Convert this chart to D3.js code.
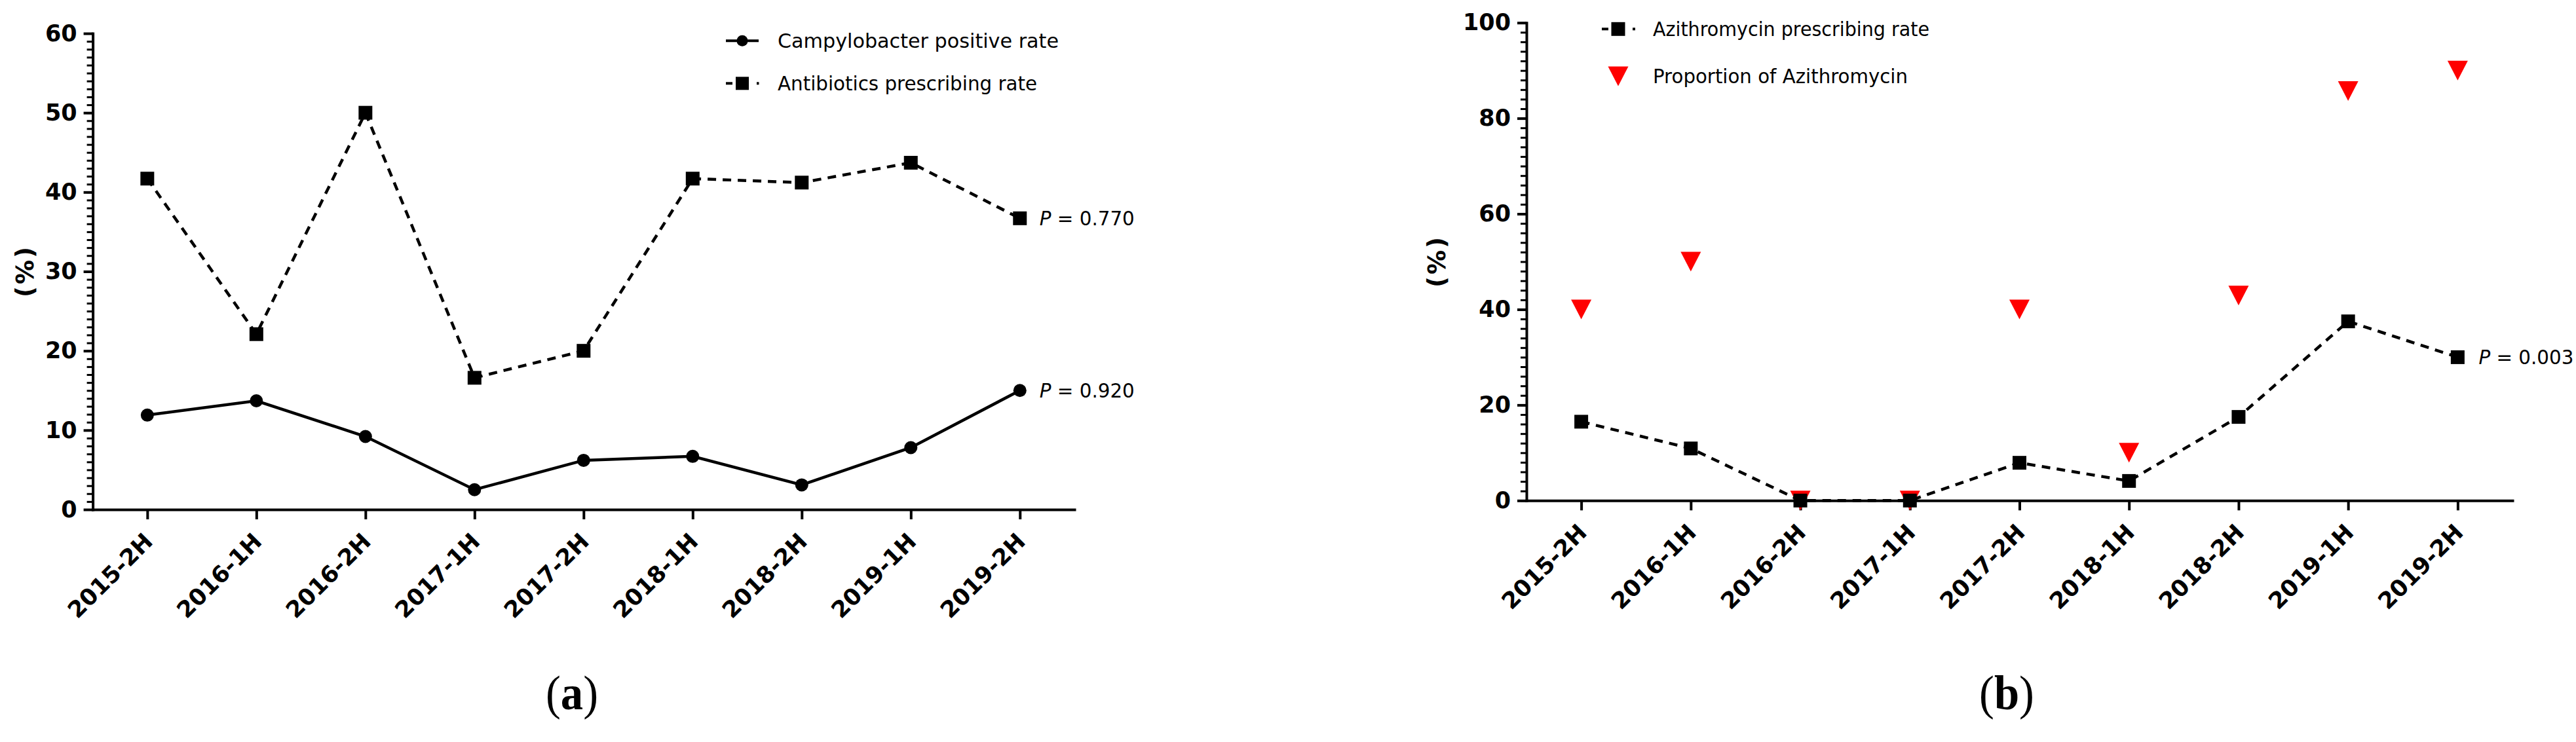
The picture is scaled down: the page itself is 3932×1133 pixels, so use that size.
<!DOCTYPE html>
<html>
<head>
<meta charset="utf-8">
<script src="https://cdn.jsdelivr.net/npm/d3@7/dist/d3.min.js"></script>
<style>
  html, body { margin: 0; padding: 0; background: #fff; }
  svg { display: block; }
</style>
</head>
<body>
<svg id="chart" width="3932" height="1133" font-family="DejaVu Sans, Verdana, sans-serif"></svg>
<script>
// ---------- data ----------
const periods = ["2015-2H","2016-1H","2016-2H","2017-1H","2017-2H","2018-1H","2018-2H","2019-1H","2019-2H"];

// panel (a)
const campyRate      = [11.9, 13.7, 9.2, 2.5, 6.2, 6.7, 3.1, 7.8, 15.0];
const antibioticRate = [41.7, 22.1, 50.0, 16.6, 20.0, 41.7, 41.2, 43.7, 36.7];
const ticksA = [0, 10, 20, 30, 40, 50, 60];
const legendA = ["Campylobacter positive rate", "Antibiotics prescribing rate"];
const pLabelsA = ["0.920", "0.770"];

// panel (b)
const azithroRate       = [16.5, 10.9, 0, 0, 7.9, 4.1, 17.5, 37.5, 30.0];
const azithroProportion = [40, 50, 0, 0, 40, 10, 42.9, 85.7, 90];
const ticksB = [0, 20, 40, 60, 80, 100];
const legendB = ["Azithromycin prescribing rate", "Proportion of Azithromycin"];
const pLabelsB = ["0.003"];

const panelLabels = ["a", "b"];

// ---------- drawing ----------
const svg = d3.select("#chart");
svg.append("rect").attr("width", 3932).attr("height", 1133).attr("fill", "#fff");

const DASH = "13,10";
const RED = "#ff0000";
const SANS = "DejaVu Sans, Verdana, sans-serif";

function drawAxes(g, x, y, majorTicks, minorStep, yMax) {
  // minor y ticks
  g.append("g")
    .attr("transform", `translate(${x.range()[0]},0)`)
    .call(d3.axisLeft(y).tickValues(d3.range(0, yMax + 0.001, minorStep)).tickSize(9).tickFormat(""))
    .call(s => s.select(".domain").remove())
    .call(s => s.selectAll(".tick line").attr("stroke", "#000").attr("stroke-width", 3));
  // major y ticks
  g.append("g")
    .attr("transform", `translate(${x.range()[0]},0)`)
    .call(d3.axisLeft(y).tickValues(majorTicks).tickSize(14).tickSizeOuter(0).tickPadding(10).tickFormat(d3.format("d")))
    .call(s => s.select(".domain").attr("stroke", "#000").attr("stroke-width", 4).attr("stroke-linecap", "square"))
    .call(s => s.selectAll(".tick line").attr("stroke", "#000").attr("stroke-width", 4))
    .call(s => s.selectAll(".tick text")
      .style("font-family", SANS).attr("font-weight", "bold")
      .attr("font-size", 35).attr("fill", "#000"));
  // x axis
  g.append("g")
    .attr("transform", `translate(0,${y(0)})`)
    .call(d3.axisBottom(x).tickSize(15).tickSizeOuter(0))
    .call(s => s.select(".domain").attr("stroke", "#000").attr("stroke-width", 4).attr("stroke-linecap", "square"))
    .call(s => s.selectAll(".tick line").attr("stroke", "#000").attr("stroke-width", 4))
    .call(s => s.selectAll(".tick text")
      .attr("x", null).attr("y", null).attr("dy", null)
      .attr("transform", "translate(10,51) rotate(-45)")
      .attr("text-anchor", "end")
      .style("font-family", SANS).attr("font-weight", "bold")
      .attr("font-size", 35).attr("fill", "#000"));
}

function yTitle(g, cx, cy) {
  g.append("text")
    .attr("transform", `translate(${cx},${cy}) rotate(-90)`)
    .attr("text-anchor", "middle").attr("dy", "0.35em")
    .style("font-family", SANS)
    .attr("font-weight", "bold").attr("font-size", 37)
    .attr("letter-spacing", 3)
    .text("(%)");
}

function pLabel(g, px, py, val) {
  const t = g.append("text")
    .attr("x", px).attr("y", py).attr("dy", "0.36em")
    .style("font-family", SANS)
    .attr("font-size", 30).attr("fill", "#000")
    .attr("textLength", 145).attr("lengthAdjust", "spacingAndGlyphs");
  t.append("tspan").attr("font-style", "italic").text("P");
  t.append("tspan").text(" = " + val);
}

function panelLabel(cx, letter) {
  const t = svg.append("text")
    .attr("transform", `translate(${cx},1083) scale(0.915,1)`)
    .attr("text-anchor", "middle")
    .style("font-family", "'Liberation Serif', 'Times New Roman', serif")
    .attr("font-size", 75).attr("fill", "#000");
  t.append("tspan").text("(");
  t.append("tspan").attr("font-weight", "bold").text(letter);
  t.append("tspan").text(")");
}

const trianglePath = "M-15.5,-15L15.5,-15L0,15Z";

function legendText(g, x, y, len, str) {
  g.append("text").attr("x", x).attr("y", y).attr("dy", "0.36em")
    .style("font-family", SANS).attr("font-size", 30).attr("fill", "#000")
    .attr("textLength", len).attr("lengthAdjust", "spacingAndGlyphs").text(str);
}

// ===== Panel (a) =====
{
  const g = svg.append("g");
  const x = d3.scalePoint().domain(periods).range([141.6, 1640]).padding(0.5);
  const y = d3.scaleLinear().domain([0, 60]).range([778, 51]);

  drawAxes(g, x, y, ticksA, 1, 60);
  yTitle(g, 38, 414);

  const line = d3.line().x((d, i) => x(periods[i])).y(d => y(d));

  // antibiotics (dashed, squares)
  g.append("path").datum(antibioticRate).attr("d", line)
    .attr("fill", "none").attr("stroke", "#000").attr("stroke-width", 4.5)
    .attr("stroke-dasharray", DASH);
  g.selectAll(".sqA").data(antibioticRate).join("path")
    .attr("transform", (d, i) => `translate(${x(periods[i])},${y(d)})`)
    .attr("d", d3.symbol(d3.symbolSquare, 441)()).attr("fill", "#000");

  // campylobacter (solid, circles)
  g.append("path").datum(campyRate).attr("d", line)
    .attr("fill", "none").attr("stroke", "#000").attr("stroke-width", 4.5);
  g.selectAll(".ciA").data(campyRate).join("circle")
    .attr("cx", (d, i) => x(periods[i])).attr("cy", d => y(d)).attr("r", 10).attr("fill", "#000");

  // P values
  const last = periods.length - 1;
  pLabel(g, x(periods[last]) + 30, y(campyRate[last]), pLabelsA[0]);
  pLabel(g, x(periods[last]) + 30, y(antibioticRate[last]), pLabelsA[1]);

  // legend
  const lg = g.append("g");
  lg.append("line").attr("x1", 1108).attr("x2", 1158).attr("y1", 62.3).attr("y2", 62.3)
    .attr("stroke", "#000").attr("stroke-width", 4);
  lg.append("circle").attr("cx", 1133).attr("cy", 62.3).attr("r", 8.5).attr("fill", "#000");
  legendText(lg, 1187, 62.3, 429, legendA[0]);
  lg.append("line").attr("x1", 1108).attr("x2", 1118).attr("y1", 127.3).attr("y2", 127.3)
    .attr("stroke", "#000").attr("stroke-width", 4);
  lg.append("rect").attr("x", 1123).attr("y", 117.3).attr("width", 20).attr("height", 20).attr("fill", "#000");
  lg.append("line").attr("x1", 1155).attr("x2", 1158.5).attr("y1", 127.3).attr("y2", 127.3)
    .attr("stroke", "#000").attr("stroke-width", 4);
  legendText(lg, 1187, 127.3, 396, legendA[1]);
}

// ===== Panel (b) =====
{
  const g = svg.append("g");
  const x = d3.scalePoint().domain(periods).range([2330, 3835]).padding(0.5);
  const y = d3.scaleLinear().domain([0, 100]).range([764.3, 34.7]);

  drawAxes(g, x, y, ticksB, 2, 100);
  yTitle(g, 2193, 399);

  const line = d3.line().x((d, i) => x(periods[i])).y(d => y(d));

  // proportion (red down triangles)
  g.selectAll(".triB").data(azithroProportion).join("path")
    .attr("transform", (d, i) => `translate(${x(periods[i])},${y(d)})`)
    .attr("d", trianglePath).attr("fill", RED);

  // azithromycin rate (dashed, squares)
  g.append("path").datum(azithroRate).attr("d", line)
    .attr("fill", "none").attr("stroke", "#000").attr("stroke-width", 4.5)
    .attr("stroke-dasharray", DASH);
  g.selectAll(".sqB").data(azithroRate).join("path")
    .attr("transform", (d, i) => `translate(${x(periods[i])},${y(d)})`)
    .attr("d", d3.symbol(d3.symbolSquare, 441)()).attr("fill", "#000");

  const last = periods.length - 1;
  pLabel(g, x(periods[last]) + 32, y(azithroRate[last]), pLabelsB[0]);

  // legend
  const lg = g.append("g");
  lg.append("line").attr("x1", 2445).attr("x2", 2455).attr("y1", 44.3).attr("y2", 44.3)
    .attr("stroke", "#000").attr("stroke-width", 4);
  lg.append("rect").attr("x", 2459.5).attr("y", 33.8).attr("width", 21).attr("height", 21).attr("fill", "#000");
  lg.append("line").attr("x1", 2492).attr("x2", 2496).attr("y1", 44.3).attr("y2", 44.3)
    .attr("stroke", "#000").attr("stroke-width", 4);
  legendText(lg, 2523, 44.3, 422, legendB[0]);

  lg.append("path").attr("transform", "translate(2470,116.5)").attr("d", trianglePath).attr("fill", RED);
  legendText(lg, 2523, 116.5, 389, legendB[1]);
}

panelLabel(873, panelLabels[0]);
panelLabel(3063, panelLabels[1]);
</script>
</body>
</html>
